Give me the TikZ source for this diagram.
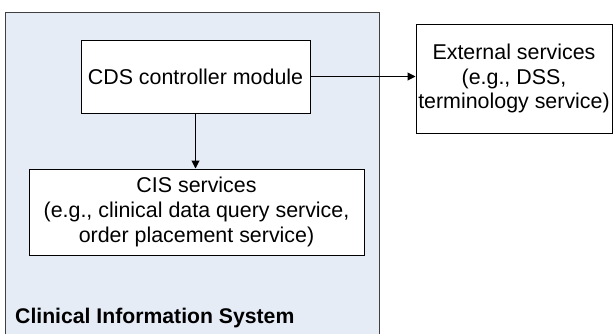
\documentclass[tikz,border=0pt]{standalone}
\usepackage{fontspec}
\setmainfont{Liberation Sans}
\usetikzlibrary{arrows.meta}
\definecolor{sysfill}{RGB}{230,236,246}
\definecolor{sysline}{RGB}{64,64,64}
\tikzset{
  box/.style={draw=black, line width=1pt, fill=white, align=center, inner sep=0pt,
    font=\fontsize{21.4}{24.6}\selectfont},
  conn/.style={draw=black, line width=1pt, -{Triangle[length=8pt,width=8pt]}},
}
\begin{document}
\begin{tikzpicture}[x=1pt,y=-1pt]
\useasboundingbox (0,0) rectangle (613,333);
\clip (0,0) rectangle (613,333);
\node[draw=sysline, line width=1pt, fill=sysfill, minimum width=374pt, minimum height=340pt, anchor=north west, inner sep=0pt] (sys) at (5,12) {};
\node[anchor=base west, inner sep=0pt, font=\fontsize{21.2}{24}\selectfont\bfseries] (syslabel) at (15,323) {Clinical Information System};
\node[box, minimum width=229pt, minimum height=73pt] (cds) at (195.5,76.5) {CDS controller module};
\node[box, minimum width=335pt, minimum height=86pt] (cis) at (196.5,212) {CIS services\\(e.g., clinical data query service,\\order placement service)};
\node[box, minimum width=196pt, minimum height=109pt] (ext) at (514,78.5) {External services\\(e.g., DSS,\\terminology service)};
\draw[conn] (cds.south) -- (cds.south |- cis.north);
\draw[conn] (cds.east) -- (cds.east -| ext.west);
\end{tikzpicture}
\end{document}
